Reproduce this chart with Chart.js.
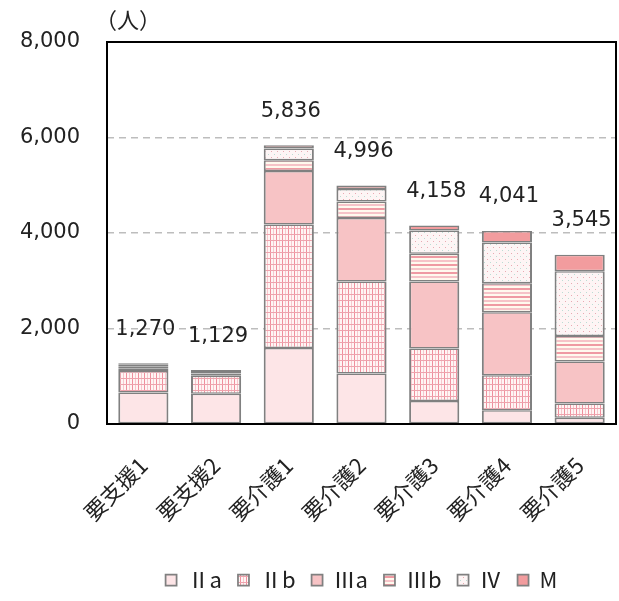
<!DOCTYPE html>
<html>
<head>
<meta charset="utf-8">
<script src="https://cdn.jsdelivr.net/npm/chart.js@4"></script>
<style>
  html, body { margin: 0; padding: 0; background: #fff; }
  #wrap { width: 619px; height: 601px; }
</style>
</head>
<body>
<div id="wrap"><canvas id="careChart"></canvas></div>
<script>
// カテゴリ（要介護度）
const levels = ["要支援1", "要支援2", "要介護1", "要介護2", "要介護3", "要介護4", "要介護5"];

// 認知症高齢者の日常生活自立度ごとの人数
const rank2a = [660, 636, 1590, 1057, 483, 287, 133];
const rank2b = [450, 372, 2589, 1925, 1099, 735, 294];
const rank3a = [60, 50, 1119, 1330, 1400, 1316, 882];
const rank3b = [40, 30, 225, 350, 581, 609, 532];
const rank4 = [30, 20, 246, 259, 490, 854, 1358];
const rankM = [30, 21, 67, 75, 105, 240, 346];

// 目盛り
const yTicks = [0, 2000, 4000, 6000, 8000];

const JP = '"Noto Sans CJK JP", sans-serif';
const NUM = '"DejaVu Sans", sans-serif';
const TEXT = "#222";

// 模様（パターン）を作る
function makePattern(w, h, draw) {
  const c = document.createElement("canvas");
  c.width = w; c.height = h;
  const g = c.getContext("2d");
  draw(g);
  return c.getContext("2d").createPattern(c, "repeat");
}

const fill2a = "#fde5e7";
const fill2b = makePattern(6, 6, g => {
  g.fillStyle = "#fff5f4"; g.fillRect(0, 0, 6, 6);
  g.fillStyle = "#f6c7cd"; g.fillRect(3, 0, 1, 6);
  g.fillStyle = "#ef8f9d"; g.fillRect(0, 0, 1, 6);
  g.fillStyle = "#eea3ad"; g.fillRect(0, 0, 6, 1);
});
const fill3a = "#f7c3c5";
const fill3b = makePattern(8, 8, g => {
  g.fillStyle = "#fff9ee"; g.fillRect(0, 0, 8, 8);
  g.fillStyle = "#ef9aa3"; g.fillRect(0, 0, 8, 2);
  g.fillStyle = "#f6c3c8"; g.fillRect(0, 4, 8, 2);
});
const fill4 = makePattern(6, 6, g => {
  g.fillStyle = "#fdf5f5"; g.fillRect(0, 0, 6, 6);
  g.fillStyle = "#e8aab2"; g.fillRect(1, 1, 1, 1);
  g.fillStyle = "#bcdcd4"; g.fillRect(4, 4, 1, 1);
});
const fillM = "#f29c9e";

const BORDER = "#808080";

function ds(label, data, bg) {
  return {
    label: label,
    data: data,
    backgroundColor: bg,
    borderColor: BORDER,
    borderWidth: { top: 1.5, bottom: 1.5, left: 2, right: 2 },
    borderSkipped: false,
    categoryPercentage: 1,
    barPercentage: 0.69
  };
}

// 合計ラベル・枠線・単位
const extras = {
  id: "extras",
  afterDatasetsDraw(chart) {
    const ctx = chart.ctx;
    const y = chart.scales.y;
    const x = chart.scales.x;
    ctx.save();
    ctx.font = "21px " + NUM;
    ctx.fillStyle = TEXT;
    ctx.textAlign = "center";
    ctx.textBaseline = "middle";
    levels.forEach((lv, i) => {
      let total = 0;
      chart.data.datasets.forEach(d => total += d.data[i]);
      ctx.fillText(total.toLocaleString("en-US"), x.getPixelForValue(i) + 2, y.getPixelForValue(total) - 34);
    });
    const a = chart.chartArea;
    ctx.strokeStyle = "#000";
    ctx.lineWidth = 2;
    ctx.strokeRect(Math.round(a.left), Math.round(a.top), Math.round(a.right - a.left), Math.round(a.bottom - a.top));
    ctx.textAlign = "left";
    ctx.font = "22px " + JP;
    ctx.fillText("（人）", a.left - 12, a.top - 22);
    ctx.restore();
  }
};

new Chart(document.getElementById("careChart"), {
  type: "bar",
  data: {
    labels: levels,
    datasets: [
      ds("Ⅱa", rank2a, fill2a),
      ds("Ⅱb", rank2b, fill2b),
      ds("Ⅲa", rank3a, fill3a),
      ds("Ⅲb", rank3b, fill3b),
      ds("Ⅳ", rank4, fill4),
      ds("M", rankM, fillM)
    ]
  },
  options: {
    responsive: true,
    maintainAspectRatio: false,
    animation: false,
    layout: { padding: { top: 42, right: 3, left: 0, bottom: 0 } },
    plugins: {
      tooltip: { enabled: false },
      legend: {
        position: "bottom",
        fullSize: false,
        labels: {
          boxWidth: 11,
          boxHeight: 11,
          padding: 16,
          color: TEXT,
          font: { family: JP, size: 22 }
        }
      }
    },
    scales: {
      x: {
        stacked: true,
        grid: { display: false },
        border: { display: false },
        ticks: {
          maxRotation: 45,
          minRotation: 45,
          padding: 20,
          color: TEXT,
          font: { family: JP, size: 22 }
        },
        afterFit(s) { s.height = 129; }
      },
      y: {
        stacked: true,
        min: 0,
        max: 8000,
        afterBuildTicks(s) { s.ticks = yTicks.map(v => ({ value: v })); },
        grid: { color: "#bdbdbd", lineWidth: 1.5, drawTicks: false },
        border: { display: false, dash: [7, 5] },
        ticks: {
          padding: 27,
          color: TEXT,
          font: { family: NUM, size: 21 },
          callback: v => v.toLocaleString("en-US")
        },
        afterFit(s) { s.width = 107; }
      }
    }
  },
  plugins: [extras]
});
</script>
</body>
</html>
